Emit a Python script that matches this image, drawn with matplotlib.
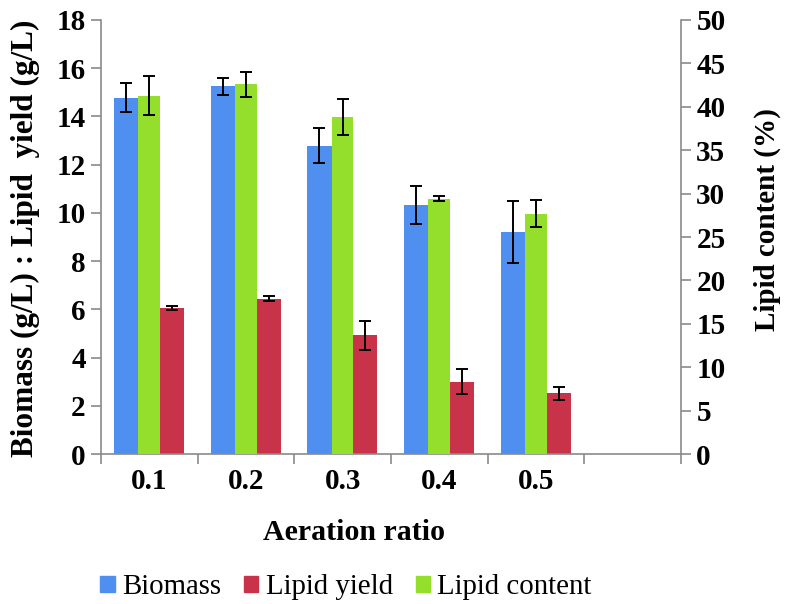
import matplotlib
matplotlib.use("Agg")
import matplotlib.pyplot as plt
import numpy as np

# data
ratios = ['0.1', '0.2', '0.3', '0.4', '0.5']
biomass = [14.78, 15.25, 12.79, 10.32, 9.22]
biomass_err = [0.59, 0.36, 0.72, 0.80, 1.28]
lipid_yield = [6.06, 6.44, 4.92, 2.99, 2.52]
lipid_yield_err = [0.08, 0.10, 0.60, 0.52, 0.27]
lipid_content = [41.3, 42.6, 38.8, 29.4, 27.7]
lipid_content_err = [2.25, 1.45, 2.05, 0.30, 1.60]

plt.rcParams['font.family'] = ['Liberation Serif', 'DejaVu Serif']

blue = '#4f8ff0'
red = '#c8334a'
green = '#93df2c'
gray = '#8a8a8a'

fig = plt.figure(figsize=(7.86, 6.04), dpi=100)
ax = fig.add_axes([0.1285, 0.2483, 0.8664 - 0.1285, 0.9669 - 0.2483])
ax2 = ax.twinx()

x = np.arange(len(ratios))
ekw = dict(ecolor='black', elinewidth=1.4, capsize=4, capthick=1.4)

ax.bar(x + 0.26, biomass, width=0.25, color=blue, yerr=biomass_err, error_kw=ekw, zorder=2)
ax.bar(x + 0.736, lipid_yield, width=0.248, color=red, yerr=lipid_yield_err, error_kw=ekw, zorder=2)
ax2.bar(x + 0.4985, lipid_content, width=0.227, color=green, yerr=lipid_content_err, error_kw=ekw, zorder=2)

ax.set_xlim(0, 6)
ax.set_ylim(0, 18)
ax2.set_ylim(0, 50)
ax.set_yticks(range(0, 19, 2))
ax2.set_yticks(range(0, 51, 5))

# category boundary ticks, labels at centres
ax.set_xticks(range(0, 7))
ax.set_xticklabels([])
ax.set_xticks(x + 0.5, minor=True)
ax.set_xticklabels(ratios, minor=True, fontsize=21, fontweight='bold')
ax.tick_params(axis='x', which='minor', length=0, pad=10)
ax.tick_params(axis='x', which='major', length=7, width=1.2, color=gray, direction='out')

for a in (ax, ax2):
    a.spines['top'].set_visible(False)
    for s in ('left', 'right', 'bottom'):
        a.spines[s].set_color(gray)
        a.spines[s].set_linewidth(1.2)
    a.tick_params(axis='y', length=7, width=1.2, color=gray, direction='out',
                  labelsize=21, pad=4)
    for lab in a.get_yticklabels():
        lab.set_fontweight('bold')
ax.spines['right'].set_visible(False)
ax2.spines['left'].set_visible(False)
ax2.spines['bottom'].set_visible(False)

fig.text(0.033, 1 - 238 / 604, 'Biomass (g/L) : Lipid  yield (g/L)', rotation=90,
         ha='center', va='center', fontsize=22.5, fontweight='bold')
fig.text(767 / 786, 1 - 220 / 604, 'Lipid content (%)', rotation=90,
         ha='center', va='center', fontsize=21, fontweight='bold')
fig.text(354 / 786, 1 - 532 / 604, 'Aeration ratio', ha='center', va='center',
         fontsize=21.5, fontweight='bold')

handles = [plt.Rectangle((0, 0), 1, 1, color=c) for c in (blue, red, green)]
fig.legend(handles, ['Biomass', 'Lipid yield', 'Lipid content'], loc='center',
           bbox_to_anchor=(346 / 786, 1 - 587 / 604), ncol=3, frameon=False,
           fontsize=20.8, handlelength=0.5, handleheight=0.5, handletextpad=0.25,
           columnspacing=0.8, borderpad=0)

fig.savefig('out.png', dpi=100)
